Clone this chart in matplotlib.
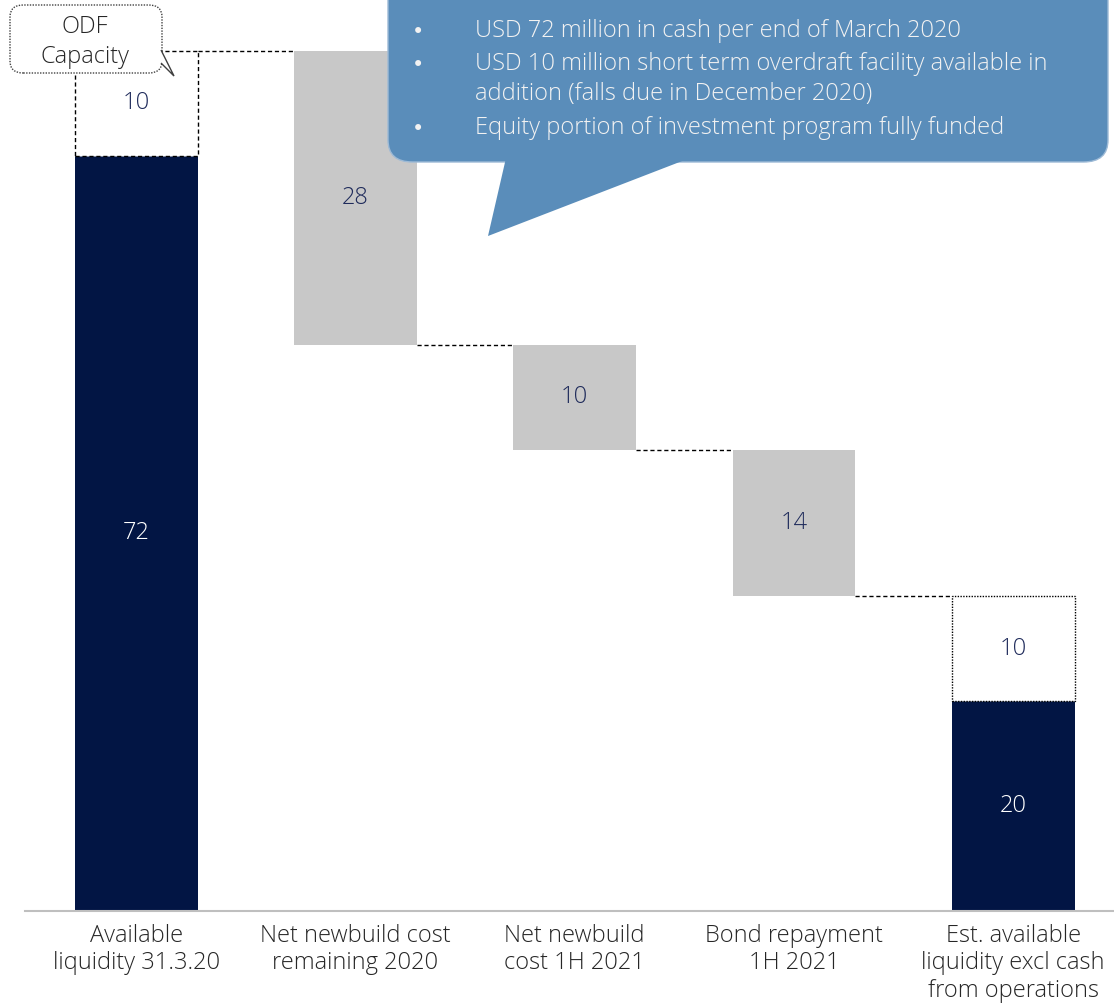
import numpy as np
import matplotlib.pyplot as plt
from matplotlib.patches import FancyBboxPatch, Polygon

plt.rcParams['font.family'] = ['Open Sans', 'DejaVu Sans']

# data
categories = ["Available\nliquidity 31.3.20",
              "Net newbuild cost\nremaining 2020",
              "Net newbuild\ncost 1H 2021",
              "Bond repayment\n1H 2021",
              "Est. available\nliquidity excl cash\nfrom operations"]
start_cash = 72
odf_capacity = 10
outflows = [28, 10, 14]
end_cash = 20
bullets = ["USD 72 million in cash per end of March 2020",
           "USD 10 million short term overdraft facility available in\naddition (falls due in December 2020)",
           "Equity portion of investment program fully funded"]

navy = '#021544'
grey = '#C8C8C8'
label_col = '#1F2B5B'
text_col = '#262626'
W, H = 1114, 1005

fig = plt.figure(figsize=(W / 100, H / 100), dpi=100)
ax = fig.add_axes([25 / W, 94 / H, 1 - 25 / W, 1 - 94 / H])
bw = 0.56
x = np.arange(len(categories))

# first bar + ODF box
ax.bar(x[0], start_cash, bw, color=navy)
ax.bar(x[0], odf_capacity, bw, bottom=start_cash, facecolor='white',
       edgecolor='black', linestyle=(0, (3, 2)), linewidth=1)
ax.text(x[0], start_cash / 2, str(start_cash), ha='center', va='center', color='white', fontsize=17, fontweight='light')
ax.text(x[0], start_cash + odf_capacity / 2, str(odf_capacity), ha='center', va='center', color=label_col, fontsize=17, fontweight='light')

# waterfall steps
level = start_cash + odf_capacity
prev_right = x[0] + bw / 2
for i, v in enumerate(outflows):
    xi = x[i + 1]
    ax.bar(xi, v, bw, bottom=level - v, color=grey)
    ax.text(xi, level - v / 2, str(v), ha='center', va='center', color=label_col, fontsize=17, fontweight='light')
    ax.plot([prev_right, xi - bw / 2], [level, level], color='black', lw=1, ls=(0, (3, 2)))
    prev_right = xi + bw / 2
    level -= v

# final bar + ODF box
ax.plot([prev_right, x[4] - bw / 2], [level, level], color='black', lw=1, ls=(0, (3, 2)))
ax.bar(x[4], end_cash, bw, color=navy)
ax.bar(x[4], odf_capacity, bw, bottom=end_cash, facecolor='white',
       edgecolor='black', linestyle=(0, (1, 1)), linewidth=1)
ax.text(x[4], end_cash / 2, str(end_cash), ha='center', va='center', color='white', fontsize=17, fontweight='light')
ax.text(x[4], end_cash + odf_capacity / 2, str(odf_capacity), ha='center', va='center', color=label_col, fontsize=17, fontweight='light')

ax.set_xlim(-0.507, 4.46)
ax.set_ylim(0, 86.86)
for s in ['top', 'right', 'left']:
    ax.spines[s].set_visible(False)
ax.spines['bottom'].set_color('#BFBFBF')
ax.spines['bottom'].set_linewidth(1.5)
ax.set_yticks([])
ax.set_xticks(x)
ax.set_xticklabels(categories, fontsize=17, color=text_col, fontweight='light', linespacing=1.2)
ax.tick_params(axis='x', length=0, pad=9)


def px(a, b):
    return (a / W, 1 - b / H)


# blue callout
blue = '#5A8DBA'
box = FancyBboxPatch(px(388, 162), (1108 - 388) / W, 200 / H,
                     boxstyle='round,pad=0,rounding_size=0.022', transform=fig.transFigure,
                     facecolor=blue, edgecolor='#9DBAD6', lw=1, zorder=5)
fig.patches.append(box)
tail = Polygon([px(506, 158), px(690, 158), px(488, 236)], closed=True,
               transform=fig.transFigure, facecolor=blue, edgecolor='none', zorder=6)
fig.patches.append(tail)
for yy, t in zip([32, 65, 129], bullets):
    fig.text(*px(418, yy), '•', ha='center', va='center', color='#F2F2F2', fontsize=15,
             family='DejaVu Sans', zorder=7)
    fig.text(*px(475, yy - 13), t, ha='left', va='top', color='#F2F2F2', fontsize=17,
             fontweight='light', linespacing=1.33, zorder=7)

# ODF callout
odf_box = FancyBboxPatch(px(10, 73), 152 / W, 68 / H,
                         boxstyle='round,pad=0,rounding_size=0.012', transform=fig.transFigure,
                         facecolor='white', edgecolor='#404040', lw=1, ls=(0, (1, 1)), zorder=5)
fig.patches.append(odf_box)
odf_tail = Polygon([px(161, 50), px(174, 76), px(161, 63)], closed=False,
                   transform=fig.transFigure, facecolor='white', edgecolor='#404040', lw=1, zorder=6)
fig.patches.append(odf_tail)
fig.text(*px(85, 42), 'ODF\nCapacity', ha='center', va='center', color=text_col,
         fontsize=17, fontweight='light', linespacing=1.3, zorder=7)

fig.savefig('out.png', dpi=100)
